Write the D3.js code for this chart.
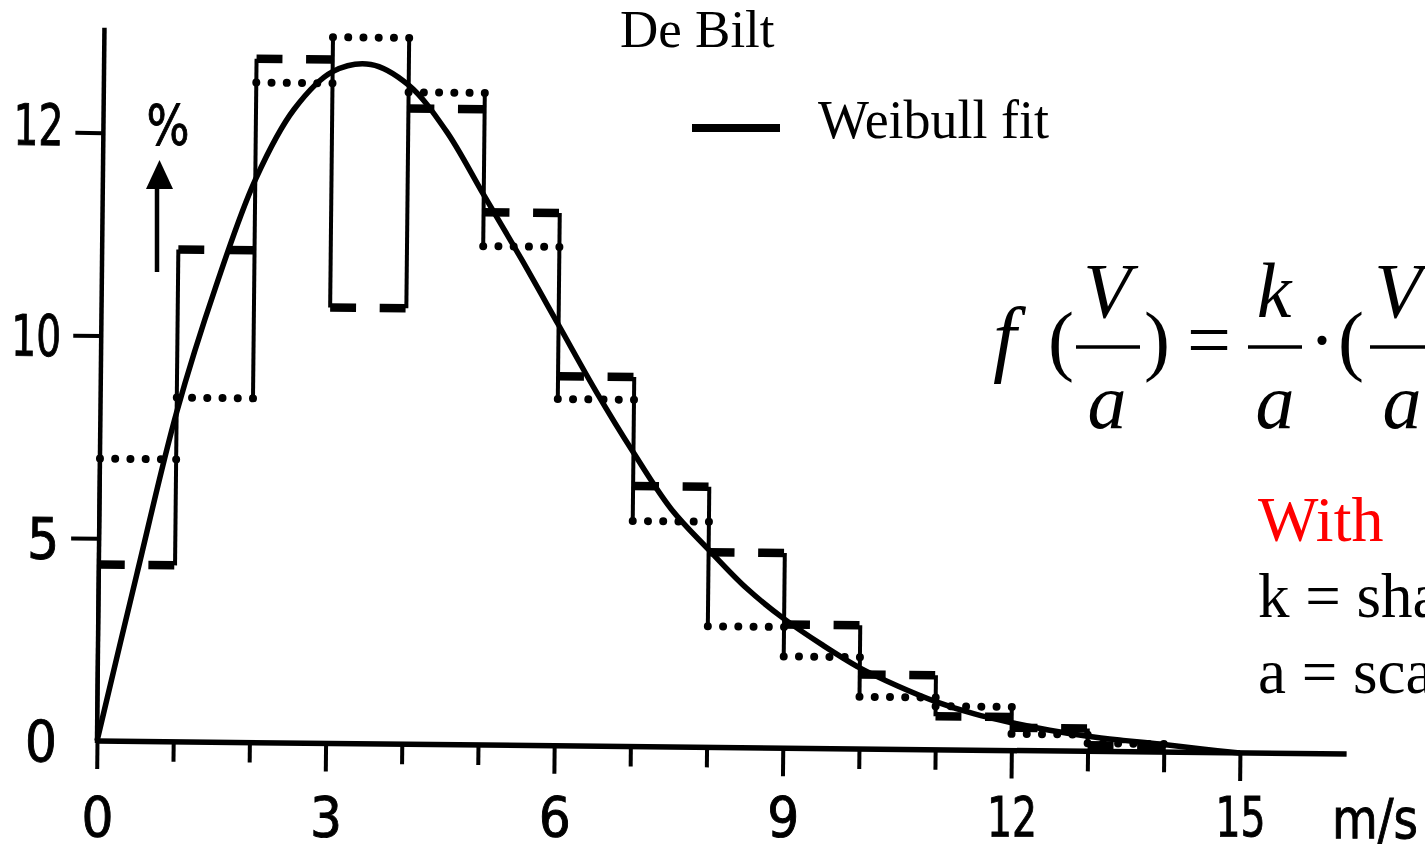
<!DOCTYPE html>
<html>
<head>
<meta charset="utf-8">
<script src="https://cdn.jsdelivr.net/npm/d3@7"></script>
<style>
  html, body { margin: 0; padding: 0; background: #fff; overflow: hidden; }
  svg { display: block; }
  .axis text, .unit { font-family: "DejaVu Sans Condensed", "DejaVu Sans", sans-serif; fill: #000; stroke: #000; stroke-width: 0.9px; }
  .axis line { stroke: #000; stroke-width: 4px; }
  .serif { font-family: "Liberation Serif", "Times New Roman", serif; fill: #000; }
  .math { font-family: "Liberation Serif", "Times New Roman", serif; font-style: italic; fill: #000; }
</style>
</head>
<body>
<svg id="chart" width="1425" height="851"></svg>
<script>
// Wind speed bins (lower edge, m/s), each 1 m/s wide
const binStarts = [0, 1, 2, 3, 4, 5, 6, 7, 8, 9, 10, 11, 12, 13];
// Observed frequency per bin (%), first data set (long dashes)
const dashedValues = [3.48, 9.71, 13.49, 8.6, 12.54, 10.51, 7.29, 5.14, 3.85, 2.44, 1.47, 0.66, 0.45, 0.12];
// Observed frequency per bin (%), second data set (dots)
const dottedValues = [5.57, 6.79, 13.02, 13.93, 12.86, 9.84, 6.84, 4.45, 2.39, 1.81, 1.03, 0.86, 0.33, 0.16];
// Weibull fit, sampled along the wind speed axis
const fitSpeed = [0, 0.5, 1, 1.5, 2, 2.5, 3, 3.5, 4, 4.5, 5, 5.5, 6, 6.5, 7, 7.5, 8, 8.5, 9, 9.5, 10, 10.5, 11, 11.5, 12, 12.5, 13, 13.5, 14, 14.5, 15];
const fitPercent = [0, 3.3, 6.5, 9.0, 11.1, 12.5, 13.25, 13.4, 13.0, 12.1, 10.85, 9.6, 8.3, 7.0, 5.8, 4.7, 3.9, 3.15, 2.55, 2.05, 1.6, 1.25, 0.95, 0.72, 0.55, 0.41, 0.3, 0.22, 0.15, 0.07, 0];
// Axis ticks
const xTickValues = [0, 1, 2, 3, 4, 5, 6, 7, 8, 9, 10, 11, 12, 13, 14, 15];
const xLabelValues = [0, 3, 6, 9, 12, 15];
const xLabelTexts = ["0", "3", "6", "9", "12", "15"];
const yTickValues = [0, 4, 8, 12];
const yTickLabels = ["0", "5", "10", "12"];

const svg = d3.select("#chart");
const x0 = 97, y0 = 741;
// Width given to a numeric label, by number of characters
const labelWidth = n => (n === 1 ? 32 : 50);

const x = d3.scaleLinear().domain([0, 15]).range([x0, x0 + 1143]);
const y = d3.scaleLinear().domain([0, 12]).range([y0, y0 - 608.4]);

// The plot frame sits slightly tilted, as on the printed sheet
const plot = svg.append("g").attr("transform", `rotate(0.6, ${x0}, ${y0})`);

// Axis lines
plot.append("line")
  .attr("x1", x(0)).attr("x2", x(16.4))
  .attr("y1", y(0)).attr("y2", y(0))
  .attr("stroke", "#000").attr("stroke-width", 5.5);
plot.append("line")
  .attr("x1", x(0)).attr("x2", x(0))
  .attr("y1", y(0) + 2).attr("y2", y(14.07))
  .attr("stroke", "#000").attr("stroke-width", 4.5);

// X axis ticks: every 1 m/s, longer every 3 m/s
const xAxis = plot.append("g").attr("class", "axis")
  .attr("transform", `translate(0, ${y0})`)
  .call(d3.axisBottom(x).tickValues(xTickValues).tickSize(20).tickFormat(""));
xAxis.select(".domain").remove();
xAxis.selectAll(".tick line").attr("y2", d => d % 3 === 0 ? 28 : 20);

// X axis labels
const xLab = svg.append("g").attr("class", "axis")
  .attr("transform", `translate(0, 836)`)
  .call(d3.axisBottom(x).tickValues(xLabelValues).tickSize(0).tickPadding(0)
    .tickFormat((d, i) => xLabelTexts[i]));
xLab.select(".domain").remove();
xLab.selectAll(".tick text")
  .attr("y", 0).attr("dy", null)
  .style("font-size", "56px")
  .attr("textLength", function () { return labelWidth(this.textContent.length); })
  .attr("lengthAdjust", "spacingAndGlyphs");
xLab.append("text")
  .attr("x", 1375).attr("y", 838)
  .attr("transform", "translate(0,-836)")
  .attr("text-anchor", "middle")
  .style("font-size", "56px")
  .attr("textLength", 86).attr("lengthAdjust", "spacingAndGlyphs")
  .text("m/s");

// Y axis
const yAxis = plot.append("g").attr("class", "axis")
  .attr("transform", `translate(${x0}, 0)`)
  .call(d3.axisLeft(y).tickValues(yTickValues).tickSize(28).tickPadding(17)
    .tickFormat((d, i) => yTickLabels[i]));
yAxis.select(".domain").remove();
yAxis.selectAll(".tick").filter(d => d === 0).select("line").remove();
yAxis.selectAll(".tick text")
  .attr("x", -40)
  .attr("dy", d => d === 12 ? "0.22em" : "0.36em")
  .style("font-size", "57px")
  .attr("textLength", function () { return labelWidth(this.textContent.length); })
  .attr("lengthAdjust", "spacingAndGlyphs");

// Vertical edges of the step outlines, spanning both data sets
const edges = binStarts.concat([binStarts[binStarts.length - 1] + 1]);
const edgeSpan = edges.map((e, i) => {
  const vals = [];
  if (i > 0) vals.push(dashedValues[i - 1], dottedValues[i - 1]); else vals.push(0);
  if (i < binStarts.length) vals.push(dashedValues[i], dottedValues[i]); else vals.push(0);
  return { e, lo: d3.min(vals), hi: d3.max(vals) };
});
plot.append("g").selectAll("line").data(edgeSpan).join("line")
  .attr("x1", d => x(d.e)).attr("x2", d => x(d.e))
  .attr("y1", d => y(d.lo)).attr("y2", d => y(d.hi))
  .attr("stroke", "#000").attr("stroke-width", 4);

const binW = x(1) - x(0);

// Dotted steps
plot.append("g").selectAll("line").data(binStarts).join("line")
  .attr("x1", d => x(d)).attr("x2", d => x(d + 1) + 0.5)
  .attr("y1", (d, i) => y(dottedValues[i])).attr("y2", (d, i) => y(dottedValues[i]))
  .attr("stroke", "#000").attr("stroke-width", 8)
  .attr("stroke-linecap", "round")
  .attr("stroke-dasharray", `0 ${binW / 5}`);

// Dashed steps
plot.append("g").selectAll("line").data(binStarts).join("line")
  .attr("x1", d => x(d)).attr("x2", d => x(d + 1))
  .attr("y1", (d, i) => y(dashedValues[i])).attr("y2", (d, i) => y(dashedValues[i]))
  .attr("stroke", "#000").attr("stroke-width", 8.5)
  .attr("stroke-dasharray", `${binW * 0.34} ${binW * 0.31}`);

// Weibull fit curve
const fitPoints = fitSpeed.map((v, i) => [v, fitPercent[i]]);
plot.append("path")
  .datum(fitPoints)
  .attr("fill", "none").attr("stroke", "#000").attr("stroke-width", 5.5)
  .attr("stroke-linejoin", "round")
  .attr("d", d3.line().x(d => x(d[0])).y(d => y(d[1])).curve(d3.curveCatmullRom.alpha(0.5)));

// Unit marker with arrow
svg.append("line")
  .attr("x1", 157).attr("x2", 157).attr("y1", 272).attr("y2", 186)
  .attr("stroke", "#000").attr("stroke-width", 4.5);
svg.append("path")
  .attr("d", "M146,189 L173,189 L159.5,160 Z")
  .attr("fill", "#000");
svg.append("text").attr("class", "unit")
  .attr("x", 168).attr("y", 144)
  .attr("text-anchor", "middle")
  .style("font-size", "56px")
  .attr("textLength", 43).attr("lengthAdjust", "spacingAndGlyphs")
  .text("%");

// Title
svg.append("text").attr("class", "serif")
  .attr("x", 620).attr("y", 47)
  .style("font-size", "53px")
  .text("De Bilt");

// Legend
svg.append("line")
  .attr("x1", 692).attr("x2", 780).attr("y1", 128).attr("y2", 128)
  .attr("stroke", "#000").attr("stroke-width", 8);
svg.append("text").attr("class", "serif")
  .attr("x", 818).attr("y", 138)
  .style("font-size", "54px")
  .text("Weibull fit");

// Weibull density formula
const formula = svg.append("g");
const mathSize = 78;
function fracBar(x1, x2) {
  formula.append("line").attr("x1", x1).attr("x2", x2).attr("y1", 347).attr("y2", 347)
    .attr("stroke", "#000").attr("stroke-width", 3.5);
}
function put(txt, cx, by, italic, anchor, size) {
  formula.append("text").attr("class", italic ? "math" : "serif")
    .attr("x", cx).attr("y", by)
    .attr("text-anchor", anchor || "middle")
    .style("font-size", (size || mathSize) + "px")
    .text(txt);
}
put("f", 993, 366, true, "start", 84);
put("(", 1048, 366, false, "start");
put("V", 1107, 317, true);
fracBar(1076, 1140);
put("a", 1107, 428, true);
put(")", 1144, 366, false, "start");
put("=", 1209, 366, false);
put("k", 1274, 317, true);
fracBar(1248, 1302);
put("a", 1275, 428, true);
put("\u00B7", 1322, 366, false);
put("(", 1338, 366, false, "start");
put("V", 1398, 317, true);
fracBar(1370, 1434);
put("a", 1402, 428, true);

// Parameter notes
svg.append("text").attr("class", "serif")
  .attr("x", 1258).attr("y", 541)
  .style("font-size", "64px").style("fill", "#ff0000")
  .text("With");
svg.append("text").attr("class", "serif")
  .attr("x", 1258).attr("y", 617)
  .style("font-size", "63px")
  .text("k = shape");
svg.append("text").attr("class", "serif")
  .attr("x", 1258).attr("y", 693)
  .style("font-size", "63px")
  .text("a = scale");
</script>
</body>
</html>
